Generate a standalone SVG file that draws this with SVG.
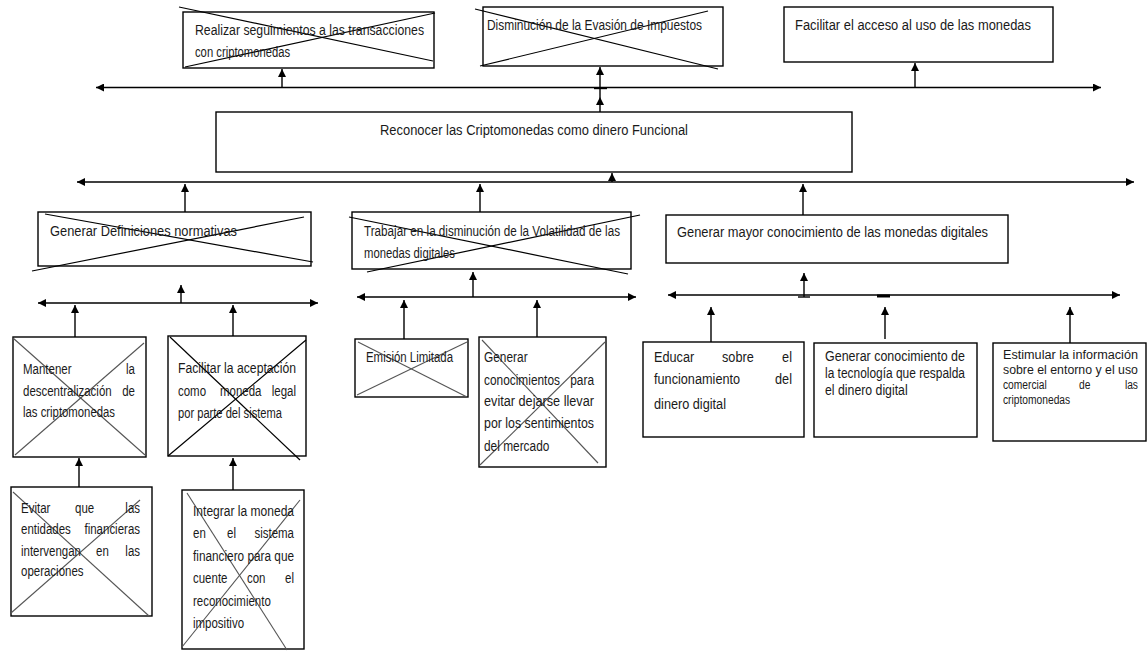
<svg xmlns="http://www.w3.org/2000/svg" width="1148" height="651" viewBox="0 0 1148 651">
<style>
.box{fill:#fff;stroke:#000;stroke-width:1.4}
.x{stroke:#000;stroke-width:1.2;fill:none}
.xg{stroke:#555;stroke-width:1.1;fill:none}
text{font-family:"Liberation Sans",Arial,sans-serif;fill:#1a1a1a}
.L text{font-size:15.5px}
.F text{font-size:15px}
.G text{font-size:14.5px}
.M text{font-size:14px}
.S text{font-size:12.5px}
.c{stroke:#000;stroke-width:1.4;fill:none}
.a{marker-end:url(#ah)}
.d{marker-start:url(#ah);marker-end:url(#ah)}
</style>
<defs>
<marker id="ah" viewBox="0 0 10 10" refX="10" refY="5" markerWidth="8" markerHeight="8" markerUnits="userSpaceOnUse" orient="auto-start-reverse">
<path d="M0,0 L10,5 L0,10 z" fill="#000"/>
</marker>
</defs>
<rect width="1148" height="651" fill="#fff"/>

<g id="connectors">
<line class="c d" x1="96" y1="87.5" x2="1101" y2="87.5"/>
<line class="c a" x1="282" y1="87.5" x2="282" y2="69"/>
<line class="c a" x1="600" y1="87.5" x2="600" y2="67"/>
<line class="c" x1="600" y1="87.5" x2="600" y2="97"/>
<line class="c a" x1="600" y1="112" x2="600" y2="97"/>
<line class="c" x1="594" y1="88.5" x2="607" y2="88.5"/>
<line class="c a" x1="915" y1="87.5" x2="915" y2="63"/>

<line class="c d" x1="77" y1="182" x2="1134" y2="182"/>
<line class="c a" x1="185" y1="212" x2="185" y2="184"/>
<line class="c a" x1="480" y1="212" x2="480" y2="184"/>
<line class="c a" x1="803" y1="215" x2="803" y2="184"/>
<line class="c a" x1="612" y1="182" x2="612" y2="173"/>

<line class="c d" x1="38" y1="303" x2="318" y2="303"/>
<line class="c a" x1="181" y1="303" x2="181" y2="285"/>
<line class="c a" x1="75" y1="337" x2="75" y2="305"/>
<line class="c a" x1="233" y1="336" x2="233" y2="305"/>

<line class="c d" x1="357" y1="297" x2="636" y2="297"/>
<line class="c a" x1="473" y1="297" x2="473" y2="272"/>
<line class="c a" x1="404" y1="339" x2="404" y2="300"/>
<line class="c a" x1="537" y1="337" x2="537" y2="300"/>

<line class="c d" x1="668" y1="295" x2="1120" y2="295"/>
<line class="c a" x1="804" y1="295" x2="804" y2="273"/>
<line class="c" x1="798" y1="297" x2="810" y2="297"/>
<line class="c" x1="804" y1="295" x2="804" y2="297"/>
<line stroke="#000" stroke-width="3" x1="877" y1="296" x2="890" y2="296"/>
<line class="c a" x1="711" y1="342" x2="711" y2="307"/>
<line class="c a" x1="885" y1="339" x2="885" y2="307"/>
<line class="c a" x1="1070" y1="343" x2="1070" y2="307"/>

<line class="c a" x1="79" y1="487" x2="79" y2="458"/>
<line class="c a" x1="233" y1="490" x2="233" y2="458"/>
</g>

<g id="n-realizar" class="M">
<rect class="box" x="183" y="12" width="251" height="56"/>
<line class="x" x1="179" y1="7" x2="433" y2="61"/>
<line class="x" x1="185" y1="67" x2="435" y2="13"/>
<text transform="translate(195,35) scale(.82,1)" textLength="279.3" lengthAdjust="spacingAndGlyphs">Realizar seguimientos a las transacciones</text>
<text transform="translate(195,57) scale(.82,1)" textLength="115.9" lengthAdjust="spacingAndGlyphs">con criptomonedas</text>
</g>

<g id="n-disminucion" class="G">
<rect class="box" x="483" y="7" width="240" height="59"/>
<line class="x" x1="475" y1="9" x2="718" y2="69"/>
<line class="x" x1="480" y1="66" x2="708" y2="11"/>
<text transform="translate(487,30) scale(.82,1)" textLength="262.2" lengthAdjust="spacingAndGlyphs">Disminución de la Evasión de Impuestos</text>
</g>

<g id="n-facilitar-acceso" class="L">
<rect class="box" x="784" y="7" width="269" height="55"/>
<text transform="translate(795,30) scale(.82,1)" textLength="287.8" lengthAdjust="spacingAndGlyphs">Facilitar el acceso al uso de las monedas</text>
</g>

<g id="n-reconocer" class="L">
<rect class="box" x="216" y="112" width="636" height="60"/>
<text transform="translate(380,135) scale(.82,1)" textLength="375.6" lengthAdjust="spacingAndGlyphs">Reconocer las Criptomonedas como dinero Funcional</text>
</g>

<g id="n-definiciones" class="L">
<rect class="box" x="38" y="212" width="273" height="54"/>
<line class="x" x1="45" y1="214" x2="313" y2="262"/>
<line class="x" x1="32" y1="271" x2="304" y2="217"/>
<text transform="translate(50,236) scale(.82,1)" textLength="228" lengthAdjust="spacingAndGlyphs">Generar Definiciones normativas</text>
</g>

<g id="n-trabajar" class="M">
<rect class="box" x="352" y="212" width="279" height="57"/>
<line class="x" x1="349" y1="217" x2="628" y2="274"/>
<line class="x" x1="367" y1="272" x2="640" y2="215"/>
<text transform="translate(364,236) scale(.82,1)" textLength="312.2" lengthAdjust="spacingAndGlyphs">Trabajar en la disminución de la Volatilidad de las</text>
<text transform="translate(364,258) scale(.82,1)" textLength="111" lengthAdjust="spacingAndGlyphs">monedas digitales</text>
</g>

<g id="n-mayor" class="L">
<rect class="box" x="666" y="215" width="342" height="48"/>
<text transform="translate(677,237) scale(.82,1)" textLength="379.3" lengthAdjust="spacingAndGlyphs">Generar mayor conocimiento de las monedas digitales</text>
</g>

<g id="n-mantener" class="M">
<rect class="box" x="13" y="337" width="133" height="120"/>
<line class="xg" x1="13" y1="338" x2="145" y2="455"/>
<line class="xg" x1="15" y1="455" x2="144" y2="343"/>
<text transform="translate(23,374) scale(.82,1)">Mantener</text>
<text transform="translate(135,374) scale(.82,1)" text-anchor="end">la</text>
<text transform="translate(23,396) scale(.82,1)">descentralización</text>
<text transform="translate(135,396) scale(.82,1)" text-anchor="end">de</text>
<text transform="translate(23,417) scale(.82,1)" textLength="112.2" lengthAdjust="spacingAndGlyphs">las criptomonedas</text>
</g>

<g id="n-aceptacion" class="M">
<rect class="box" x="168" y="336" width="138" height="120"/>
<line class="x" x1="168" y1="456" x2="306" y2="340"/>
<line class="x" x1="170" y1="337" x2="300" y2="460"/>
<text transform="translate(178,373) scale(.82,1)" textLength="143.9" lengthAdjust="spacingAndGlyphs">Facilitar la aceptación</text>
<text transform="translate(178,396) scale(.82,1)">como</text>
<text transform="translate(220,396) scale(.82,1)">moneda</text>
<text transform="translate(296,396) scale(.82,1)" text-anchor="end">legal</text>
<text transform="translate(178,418) scale(.82,1)" textLength="126.8" lengthAdjust="spacingAndGlyphs">por parte del sistema</text>
</g>

<g id="n-emision" class="M">
<rect class="box" x="355" y="339" width="113" height="58"/>
<line class="xg" x1="358" y1="342" x2="467" y2="397"/>
<line class="xg" x1="357" y1="395" x2="467" y2="342"/>
<text transform="translate(366,362) scale(.82,1)" textLength="106.1" lengthAdjust="spacingAndGlyphs">Emisión Limitada</text>
</g>

<g id="n-conocimientos" class="G">
<rect class="box" x="479" y="337" width="127" height="130"/>
<line class="xg" x1="482" y1="340" x2="598" y2="463"/>
<line class="xg" x1="480" y1="465" x2="605" y2="342"/>
<text transform="translate(484,362) scale(.82,1)">Generar</text>
<text transform="translate(484,385) scale(.82,1)">conocimientos</text>
<text transform="translate(594,385) scale(.82,1)" text-anchor="end">para</text>
<text transform="translate(484,406) scale(.82,1)" textLength="134.1" lengthAdjust="spacingAndGlyphs">evitar dejarse llevar</text>
<text transform="translate(484,428) scale(.82,1)" textLength="134.1" lengthAdjust="spacingAndGlyphs">por los sentimientos</text>
<text transform="translate(484,451) scale(.82,1)">del mercado</text>
</g>

<g id="n-educar" class="L">
<rect class="box" x="643" y="342" width="161" height="95"/>
<text transform="translate(654,362) scale(.82,1)">Educar</text>
<text transform="translate(722,362) scale(.82,1)">sobre</text>
<text transform="translate(792,362) scale(.82,1)" text-anchor="end">el</text>
<text transform="translate(654,384) scale(.82,1)">funcionamiento</text>
<text transform="translate(792,384) scale(.82,1)" text-anchor="end">del</text>
<text transform="translate(654,409) scale(.82,1)">dinero digital</text>
</g>

<g id="n-tecnologia" class="F">
<rect class="box" x="814" y="343" width="163" height="94"/>
<text transform="translate(825,361) scale(.82,1)" textLength="170.7" lengthAdjust="spacingAndGlyphs">Generar conocimiento de</text>
<text transform="translate(825,378) scale(.82,1)" textLength="170.7" lengthAdjust="spacingAndGlyphs">la tecnología que respalda</text>
<text transform="translate(825,395) scale(.82,1)">el dinero digital</text>
</g>

<g id="n-estimular" class="S">
<rect class="box" x="993" y="343" width="153" height="98"/>
<text transform="translate(1003,359) scale(.82,1)" textLength="164.6" lengthAdjust="spacingAndGlyphs">Estimular la información</text>
<text transform="translate(1003,374) scale(.82,1)" textLength="164.6" lengthAdjust="spacingAndGlyphs">sobre el entorno y el uso</text>
<text transform="translate(1003,389) scale(.82,1)">comercial</text>
<text transform="translate(1079,389) scale(.82,1)">de</text>
<text transform="translate(1138,389) scale(.82,1)" text-anchor="end">las</text>
<text transform="translate(1003,404) scale(.82,1)">criptomonedas</text>
</g>

<g id="n-evitar" class="M">
<rect class="box" x="11" y="487" width="141" height="129"/>
<line class="xg" x1="13" y1="492" x2="149" y2="616"/>
<line class="xg" x1="11" y1="613" x2="140" y2="500"/>
<text transform="translate(21,513) scale(.82,1)">Evitar</text>
<text transform="translate(75,513) scale(.82,1)">que</text>
<text transform="translate(140,513) scale(.82,1)" text-anchor="end">las</text>
<text transform="translate(21,534) scale(.82,1)">entidades</text>
<text transform="translate(140,534) scale(.82,1)" text-anchor="end">financieras</text>
<text transform="translate(21,556) scale(.82,1)">intervengan</text>
<text transform="translate(96,556) scale(.82,1)">en</text>
<text transform="translate(140,556) scale(.82,1)" text-anchor="end">las</text>
<text transform="translate(21,576) scale(.82,1)">operaciones</text>
</g>

<g id="n-integrar" class="M">
<rect class="box" x="182" y="490" width="122" height="159"/>
<line class="xg" x1="187" y1="493" x2="287" y2="650"/>
<line class="xg" x1="182" y1="647" x2="300" y2="500"/>
<text transform="translate(193,516) scale(.82,1)" textLength="123.2" lengthAdjust="spacingAndGlyphs">Integrar la moneda</text>
<text transform="translate(193,538) scale(.82,1)">en</text>
<text transform="translate(227,538) scale(.82,1)">el</text>
<text transform="translate(294,538) scale(.82,1)" text-anchor="end">sistema</text>
<text transform="translate(193,561) scale(.82,1)" textLength="123.2" lengthAdjust="spacingAndGlyphs">financiero para que</text>
<text transform="translate(193,583) scale(.82,1)">cuente</text>
<text transform="translate(247,583) scale(.82,1)">con</text>
<text transform="translate(294,583) scale(.82,1)" text-anchor="end">el</text>
<text transform="translate(193,606) scale(.82,1)">reconocimiento</text>
<text transform="translate(193,628) scale(.82,1)">impositivo</text>
</g>
</svg>
